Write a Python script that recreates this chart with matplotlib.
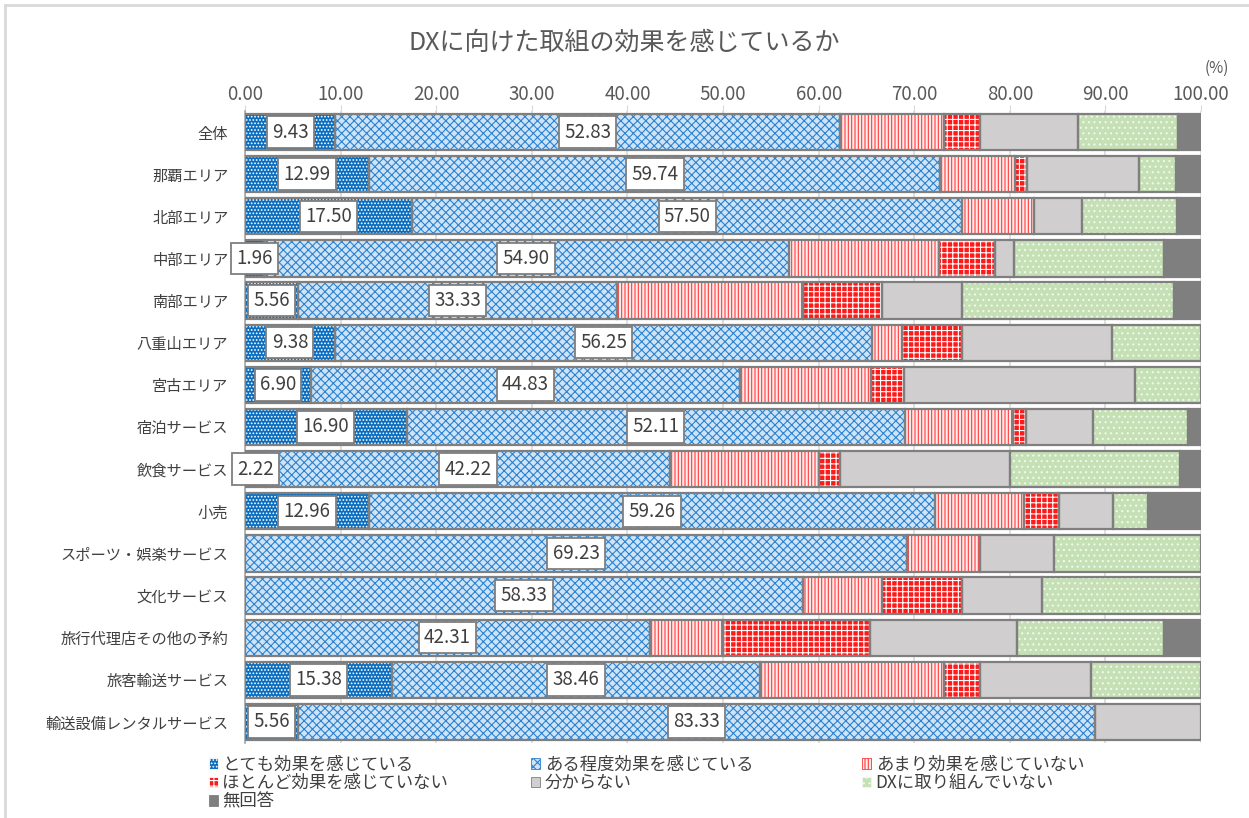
import numpy as np
import matplotlib
matplotlib.use("Agg")
import matplotlib.pyplot as plt
from matplotlib.patches import Patch
from matplotlib.lines import Line2D

plt.rcParams['font.family'] = ['Noto Sans CJK JP', 'DejaVu Sans']
plt.rcParams['hatch.linewidth'] = 0.8

# カテゴリ（上から順）
kategorien = ['全体', '那覇エリア', '北部エリア', '中部エリア', '南部エリア', '八重山エリア',
              '宮古エリア', '宿泊サービス', '飲食サービス', '小売', 'スポーツ・娯楽サービス',
              '文化サービス', '旅行代理店その他の予約', '旅客輸送サービス', '輸送設備レンタルサービス']

# 回答割合 (%)
totemo = [9.43, 12.99, 17.50, 1.96, 5.56, 9.38, 6.90, 16.90, 2.22, 12.96, 0, 0, 0, 15.38, 5.56]
aru_teido = [52.83, 59.74, 57.50, 54.90, 33.33, 56.25, 44.83, 52.11, 42.22, 59.26, 69.23, 58.33, 42.31, 38.46, 83.33]
amari = [10.85, 7.79, 7.50, 15.69, 19.44, 3.13, 13.79, 11.27, 15.56, 9.26, 7.69, 8.33, 7.69, 19.23, 0]
hotondo = [3.73, 1.30, 0, 5.88, 8.33, 6.25, 3.45, 1.41, 2.22, 3.70, 0, 8.33, 15.38, 3.85, 0]
wakaranai = [10.31, 11.69, 5.00, 1.96, 8.33, 15.63, 24.14, 7.04, 17.78, 5.56, 7.69, 8.33, 15.38, 11.54, 11.11]
dx_nashi = [10.49, 3.90, 10.00, 15.69, 22.22, 9.38, 6.90, 9.86, 17.78, 3.70, 15.38, 16.67, 15.38, 11.54, 0]
mukaito = [2.36, 2.60, 2.50, 3.92, 2.78, 0, 0, 1.41, 2.22, 5.56, 0, 0, 3.85, 0, 0]

reihen = [
    # (Name, Werte, Füllfarbe, Schraffur, Schraffurfarbe)
    ('とても効果を感じている', totemo, '#0A6EC0', '.....', '#FFFFFF'),
    ('ある程度効果を感じている', aru_teido, '#CFE3F6', 'xxxx', '#2A82D0'),
    ('あまり効果を感じていない', amari, '#FFECEC', '|||||', '#FF3B3B'),
    ('ほとんど効果を感じていない', hotondo, '#FF1A1A', '+++', '#FFFFFF'),
    ('分からない', wakaranai, '#D0CECE', None, '#D0CECE'),
    ('DXに取り組んでいない', dx_nashi, '#C5E0B4', '...', '#F2F8EE'),
    ('無回答', mukaito, '#7F7F7F', None, '#7F7F7F'),
]

fig = plt.figure(figsize=(12.49, 8.18), dpi=100)
ax = fig.add_axes([0.1962, 0.0917, 0.7654, 0.7726])

y = np.arange(len(kategorien))
hoehe = 0.86
links = np.zeros(len(kategorien))
for name, werte, farbe, muster, musterfarbe in reihen:
    werte = np.array(werte, dtype=float)
    ax.barh(y, werte, left=links, height=hoehe, color=farbe, hatch=muster,
            edgecolor=musterfarbe, linewidth=0, zorder=2)
    # Rahmen nur für vorhandene Segmente
    lw = [1.6 if v > 0 else 0 for v in werte]
    ax.barh(y, werte, left=links, height=hoehe, fill=False,
            edgecolor='#7F7F7F', linewidth=lw, zorder=3)
    links += werte

# Datenbeschriftungen für die ersten beiden Reihen
links = np.zeros(len(kategorien))
for name, werte, *_ in reihen[:2]:
    for i, v in enumerate(werte):
        if v > 0:
            ax.text(links[i] + v / 2, y[i], f'{v:.2f}', ha='center', va='center',
                    fontsize=13.5, color='#404040', zorder=5,
                    bbox=dict(boxstyle='square,pad=0.28', fc='white', ec='#7F7F7F', lw=1.3))
    links += np.array(werte)

ax.set_xlim(0, 100)
ax.set_ylim(len(kategorien) - 0.5, -0.5)
ax.set_xticks(np.arange(0, 101, 10))
ax.set_xticklabels([f'{v:.2f}' for v in np.arange(0, 101, 10)])
ax.xaxis.tick_top()
ax.tick_params(axis='x', length=4, color='#D9D9D9', labelsize=13.5, labelcolor='#595959', pad=0)
ax.set_yticks(y)
ax.set_yticklabels(kategorien)
ax.tick_params(axis='y', length=0, labelsize=11, labelcolor='#404040', pad=12)
ax.grid(axis='x', color='#D9D9D9', linewidth=1.2, zorder=0)
ax.set_axisbelow(True)
for s in ['top', 'right', 'bottom']:
    ax.spines[s].set_visible(False)
ax.spines['left'].set_color('#A6A6A6')
ax.spines['left'].set_linewidth(1.2)

fig.text(0.5, 0.948, 'DXに向けた取組の効果を感じているか', ha='center', va='center',
         fontsize=18, color='#595959')
fig.text(0.974, 0.916, '(%)', ha='center', va='center', fontsize=11, color='#595959')

# Legende in drei Spalten
spalten = [[0, 3, 6], [1, 4], [2, 5]]
x_pos = [0.167, 0.425, 0.690]
for sp, xp in zip(spalten, x_pos):
    griffe = []
    for k in sp:
        name, werte, farbe, muster, musterfarbe = reihen[k]
        kante = musterfarbe if muster else '#7F7F7F'
        griffe.append(Patch(facecolor=farbe, hatch=muster, edgecolor=kante, linewidth=0.6, label=name))
    fig.legend(handles=griffe, loc='upper left', bbox_to_anchor=(xp, 0.076), frameon=False,
               fontsize=12.5, handlelength=0.55, handleheight=0.55, handletextpad=0.25,
               labelspacing=0.02, borderpad=0, borderaxespad=0, labelcolor='#404040')

# Rahmen des Diagrammbereichs
fig.add_artist(Line2D([5 / 1249, 1], [1 - 5 / 818, 1 - 5 / 818], transform=fig.transFigure,
                      color='#D9D9D9', linewidth=2))
fig.add_artist(Line2D([5 / 1249, 5 / 1249], [0, 1 - 5 / 818], transform=fig.transFigure,
                      color='#D9D9D9', linewidth=2))

fig.savefig('out.png', dpi=100)
plt.close(fig)
